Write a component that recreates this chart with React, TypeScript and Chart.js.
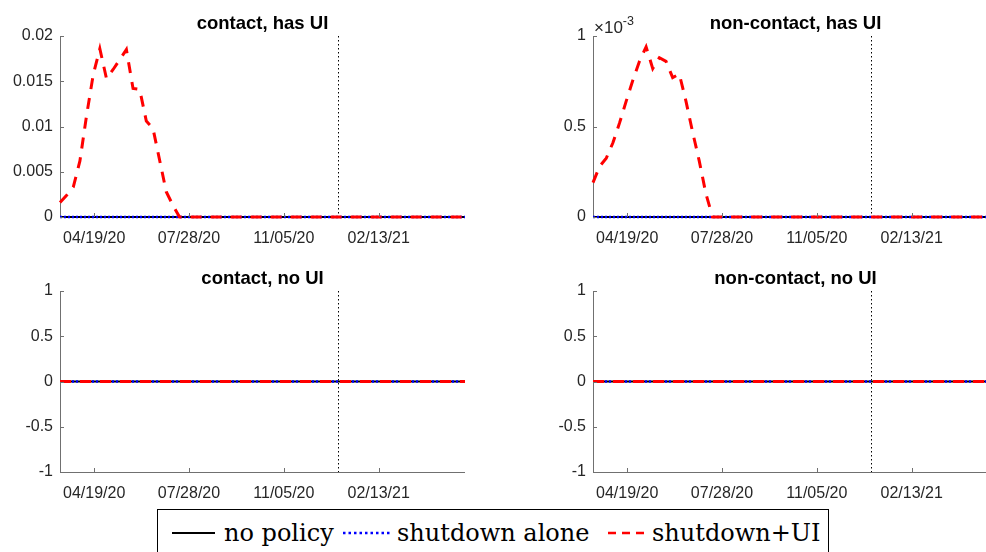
import React, { useEffect, useRef } from 'react';
import { Chart, registerables } from 'chart.js';

Chart.register(...registerables);

// ---------- data ----------
const START_DATE = '2020-03-14'; // first weekly observation
const N_WEEKS = 62;
const tickDates = ['2020-04-19', '2020-07-28', '2020-11-05', '2021-02-13'];
const tickLabels = ['04/19/20', '07/28/20', '11/05/20', '02/13/21'];
const policyEndDate = '2021-01-01';

const panelTitles = ['contact, has UI', 'non-contact, has UI', 'contact, no UI', 'non-contact, no UI'];
const seriesNames = ['no policy', 'shutdown alone', 'shutdown+UI'];

// all-zero readings (no policy / shutdown alone everywhere, and every series in the no-UI panels)
const flatZero = [
  0, 0, 0, 0, 0, 0, 0, 0, 0, 0, 0, 0, 0, 0, 0, 0, 0, 0, 0, 0, 0,
  0, 0, 0, 0, 0, 0, 0, 0, 0, 0, 0, 0, 0, 0, 0, 0, 0, 0, 0, 0, 0,
  0, 0, 0, 0, 0, 0, 0, 0, 0, 0, 0, 0, 0, 0, 0, 0, 0, 0, 0, 0,
];

const contactHasUI_shutdownUI = [
  0.0016, 0.0024, 0.0033, 0.0062, 0.0112, 0.0157, 0.0186, 0.0153, 0.0163, 0.0174,
  0.0185, 0.0142, 0.0141, 0.0106, 0.0098, 0.0063, 0.0028, 0.0013, 0, 0,
  0, 0, 0, 0, 0, 0, 0, 0, 0, 0, 0, 0, 0, 0, 0, 0, 0, 0, 0, 0, 0,
  0, 0, 0, 0, 0, 0, 0, 0, 0, 0, 0, 0, 0, 0, 0, 0, 0, 0, 0, 0, 0,
];

const nonContactHasUI_shutdownUI = [
  0.00019, 0.00028, 0.000325, 0.00041, 0.00052, 0.00064, 0.000755, 0.00086, 0.00094, 0.00082,
  0.00088, 0.00086, 0.00077, 0.00079, 0.00064, 0.00047, 0.00031, 0.00013, 0, 0,
  0, 0, 0, 0, 0, 0, 0, 0, 0, 0, 0, 0, 0, 0, 0, 0, 0, 0, 0, 0, 0,
  0, 0, 0, 0, 0, 0, 0, 0, 0, 0, 0, 0, 0, 0, 0, 0, 0, 0, 0, 0, 0,
];

const yLimitsHasUIContact = [0, 0.02, 0.005];
const yLimitsHasUINonContact = [0, 0.001, 0.0005];
const yLimitsNoUI = [-1, 1, 0.5];

// ---------- helpers ----------
const DAY_MS = 86400000;
const dayOf = (d: string) => (Date.parse(d) - Date.parse(START_DATE)) / DAY_MS;
const weekDays = Array.from({ length: N_WEEKS }, (_, i) => i * 7);
const tickDays = tickDates.map(dayOf);
const policyDay = dayOf(policyEndDate);

const AXIS_COLOR = '#707070';
const TICK_COLOR = '#262626';
const SANS = '"Liberation Sans", Arial, Helvetica, sans-serif';

const toPoints = (vals: number[]) => vals.map((v, i) => ({ x: weekDays[i], y: v }));
const fmt = (v: number) => String(Number(v.toFixed(6)));

const decorPlugin = {
  id: 'decor',
  beforeDatasetsDraw(chart: any) {
    const { ctx, chartArea, scales } = chart;
    const x = Math.round(scales.x.getPixelForValue(policyDay)) + 0.5;
    ctx.save();
    ctx.strokeStyle = '#000';
    ctx.lineWidth = 1;
    ctx.setLineDash([1.5, 2.5]);
    ctx.beginPath();
    ctx.moveTo(x, chartArea.top);
    ctx.lineTo(x, chartArea.bottom);
    ctx.stroke();
    ctx.restore();
  },
  afterDraw(chart: any, _args: any, opts: any) {
    const { ctx, chartArea, scales } = chart;
    ctx.save();
    ctx.strokeStyle = AXIS_COLOR;
    ctx.lineWidth = 1;
    ctx.beginPath();
    scales.y.ticks.forEach((t: any) => {
      const y = Math.round(scales.y.getPixelForValue(t.value)) + 0.5;
      ctx.moveTo(chartArea.left, y);
      ctx.lineTo(chartArea.left + 4, y);
    });
    scales.x.ticks.forEach((t: any) => {
      const x = Math.round(scales.x.getPixelForValue(t.value)) + 0.5;
      ctx.moveTo(x, chartArea.bottom);
      ctx.lineTo(x, chartArea.bottom - 4);
    });
    ctx.stroke();

    // title
    ctx.fillStyle = '#000';
    ctx.font = `bold 18.5px ${SANS}`;
    ctx.textAlign = 'center';
    ctx.textBaseline = 'alphabetic';
    ctx.fillText(opts.title, (chartArea.left + chartArea.right) / 2, chartArea.top - 7);

    // exponent label
    if (opts.exponent) {
      ctx.fillStyle = TICK_COLOR;
      ctx.textAlign = 'left';
      ctx.font = `17px ${SANS}`;
      const base = '\u00d710';
      ctx.fillText(base, chartArea.left + 1, chartArea.top - 3);
      const w = ctx.measureText(base).width;
      ctx.font = `12.5px ${SANS}`;
      ctx.fillText(opts.exponent, chartArea.left + 1 + w, chartArea.top - 11);
    }
    ctx.restore();
  },
};

type PanelCfg = {
  title: string;
  noPolicy: number[];
  shutdownAlone: number[];
  shutdownUI: number[];
  yLim: number[];
  scaleFactor: number;
  exponent?: string;
  left: number;
  top: number;
  padTop: number;
  xAxisHeight: number;
};

const panels: PanelCfg[] = [
  {
    title: panelTitles[0], noPolicy: flatZero, shutdownAlone: flatZero, shutdownUI: contactHasUI_shutdownUI,
    yLim: yLimitsHasUIContact, scaleFactor: 1, left: 0, top: 0, padTop: 36, xAxisHeight: 43,
  },
  {
    title: panelTitles[1], noPolicy: flatZero, shutdownAlone: flatZero, shutdownUI: nonContactHasUI_shutdownUI,
    yLim: yLimitsHasUINonContact, scaleFactor: 1000, exponent: '-3', left: 533, top: 0, padTop: 36, xAxisHeight: 43,
  },
  {
    title: panelTitles[2], noPolicy: flatZero, shutdownAlone: flatZero, shutdownUI: flatZero,
    yLim: yLimitsNoUI, scaleFactor: 1, left: 0, top: 260, padTop: 31, xAxisHeight: 48,
  },
  {
    title: panelTitles[3], noPolicy: flatZero, shutdownAlone: flatZero, shutdownUI: flatZero,
    yLim: yLimitsNoUI, scaleFactor: 1, left: 533, top: 260, padTop: 31, xAxisHeight: 48,
  },
];

const CW = 465;
const CH = 260;

function Panel({ cfg }: { cfg: PanelCfg }) {
  const ref = useRef<HTMLCanvasElement | null>(null);
  useEffect(() => {
    if (!ref.current) return;
    const chart = new Chart(ref.current, {
      type: 'line',
      data: {
        datasets: [
          {
            label: seriesNames[2], data: toPoints(cfg.shutdownUI), borderColor: '#ff0000',
            borderWidth: 3, borderDash: [11, 9], pointRadius: 0, tension: 0, order: 0, fill: false, clip: false,
          },
          {
            label: seriesNames[1], data: toPoints(cfg.shutdownAlone), borderColor: '#0000ff',
            borderWidth: 2.5, borderDash: [2, 2], pointRadius: 0, tension: 0, order: 1, fill: false, clip: false,
          },
          {
            label: seriesNames[0], data: toPoints(cfg.noPolicy), borderColor: '#000000',
            borderWidth: 2, pointRadius: 0, tension: 0, order: 2, fill: false, clip: false,
          },
        ],
      },
      options: {
        animation: false,
        responsive: false,
        maintainAspectRatio: false,
        devicePixelRatio: 1,
        layout: { padding: { top: cfg.padTop, left: 0, right: 0, bottom: 0 } },
        plugins: {
          legend: { display: false },
          tooltip: { enabled: false },
          title: { display: false },
          decor: { title: cfg.title, exponent: cfg.exponent },
        } as any,
        scales: {
          x: {
            type: 'linear',
            min: weekDays[0],
            max: weekDays[weekDays.length - 1],
            afterBuildTicks: (s: any) => {
              s.ticks = tickDays.map((v) => ({ value: v }));
            },
            afterFit: (s: any) => {
              s.height = cfg.xAxisHeight;
            },
            ticks: {
              autoSkip: false,
              maxRotation: 0,
              minRotation: 0,
              padding: 12,
              color: TICK_COLOR,
              font: { size: 16, family: SANS },
              callback: (_v: any, i: number) => tickLabels[i],
            },
            grid: { display: false, drawTicks: false },
            border: { display: true, color: AXIS_COLOR, width: 1 },
          },
          y: {
            type: 'linear',
            min: cfg.yLim[0],
            max: cfg.yLim[1],
            afterFit: (s: any) => {
              s.width = 60;
            },
            ticks: {
              stepSize: cfg.yLim[2],
              padding: 7,
              color: TICK_COLOR,
              font: { size: 16, family: SANS },
              callback: (v: any) => fmt(Number(v) * cfg.scaleFactor),
            },
            grid: { display: false, drawTicks: false },
            border: { display: true, color: AXIS_COLOR, width: 1 },
          },
        },
      } as any,
      plugins: [decorPlugin as any],
    });
    return () => chart.destroy();
  }, [cfg]);
  return (
    <canvas
      ref={ref}
      width={CW}
      height={CH}
      style={{ position: 'absolute', left: cfg.left, top: cfg.top, width: CW, height: CH }}
    />
  );
}

function Legend() {
  const font = '"DejaVu Serif", "Liberation Serif", serif';
  return (
    <svg
      width={836}
      height={52}
      style={{ position: 'absolute', left: 150, top: 500 }}
    >
      <rect x={7.5} y={9.5} width={671} height={60} fill="#ffffff" stroke="#000000" strokeWidth={1} />
      <line x1={22} x2={65} y1={33} y2={33} stroke="#000000" strokeWidth={2} />
      <text x={74} y={41} fontFamily={font} fontSize={24} fill="#000">{seriesNames[0]}</text>
      <line x1={193} x2={240} y1={33} y2={33} stroke="#0000ff" strokeWidth={2.5} strokeDasharray="2.5 3" />
      <text x={247} y={41} fontFamily={font} fontSize={24} fill="#000">{seriesNames[1]}</text>
      <line x1={458} x2={496} y1={33} y2={33} stroke="#ff0000" strokeWidth={2.5} strokeDasharray="8 6" />
      <text x={502} y={41} fontFamily={font} fontSize={24} fill="#000">{seriesNames[2]}</text>
    </svg>
  );
}

export default function App() {
  return (
    <div
      style={{
        position: 'fixed',
        left: 0,
        top: 0,
        width: 986,
        height: 552,
        overflow: 'hidden',
        background: '#ffffff',
      }}
    >
      {panels.map((p, i) => (
        <Panel key={i} cfg={p} />
      ))}
      <Legend />
    </div>
  );
}
